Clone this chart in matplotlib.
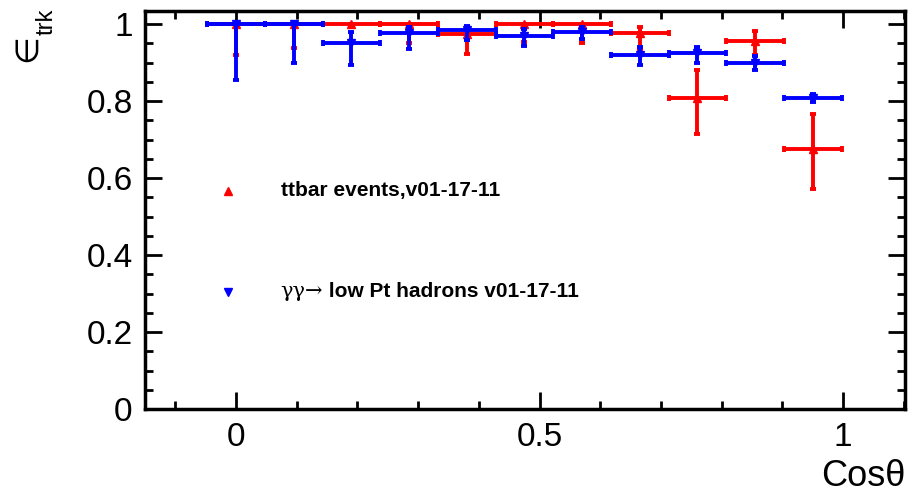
"""
Tracking efficiency vs cos(theta): ttbar vs gamma-gamma -> low Pt hadrons
"""

import matplotlib
matplotlib.use("Agg")
import matplotlib.pyplot as plt
from matplotlib.ticker import MultipleLocator
import numpy as np

plt.rcParams["font.family"] = ["Liberation Sans", "DejaVu Sans"]

# --- data (bin centres, half-width 0.0475) ---
cos_bins = [0.0, 0.095, 0.19, 0.285, 0.38, 0.475, 0.57, 0.665, 0.76, 0.855, 0.95]
bin_half = 0.0475

ttbar_eff = [1.0, 1.0, 1.0, 1.0, 0.974, 1.0, 1.0, 0.976, 0.809, 0.956, 0.675]
ttbar_lo = [0.081, 0.063, 0.0, 0.05, 0.052, 0.046, 0.05, 0.04, 0.095, 0.037, 0.104]
ttbar_hi = [0.0, 0.0, 0.0, 0.0, 0.0, 0.0, 0.0, 0.017, 0.072, 0.027, 0.091]

gg_eff = [1.0, 1.0, 0.951, 0.977, 0.984, 0.97, 0.98, 0.919, 0.924, 0.90, 0.809]
gg_lo = [0.145, 0.10, 0.057, 0.042, 0.026, 0.027, 0.019, 0.025, 0.024, 0.018, 0.011]
gg_hi = [0.0, 0.0, 0.029, 0.016, 0.011, 0.017, 0.013, 0.022, 0.017, 0.017, 0.009]

RED = "#ff0000"
BLUE = "#0000ff"

fig = plt.figure(figsize=(9.19, 4.96), dpi=100)
ax = fig.add_axes([0.1578, 0.1754, 0.8270, 0.8024])

err_kw = dict(fmt="none", elinewidth=2.8, capsize=2.5, capthick=2.8)
ax.errorbar(cos_bins, ttbar_eff, xerr=bin_half, yerr=[ttbar_lo, ttbar_hi],
            ecolor=RED, **err_kw)
ax.plot(cos_bins, ttbar_eff, "^", color=RED, markersize=6, linestyle="none")
ax.errorbar(cos_bins, gg_eff, xerr=bin_half, yerr=[gg_lo, gg_hi],
            ecolor=BLUE, **err_kw)
ax.plot(cos_bins, gg_eff, "v", color=BLUE, markersize=6, linestyle="none")

ax.set_xlim(-0.15, 1.102)
ax.set_ylim(0, 1.034)

# ROOT-style axes: ticks inside on all four sides
ax.xaxis.set_major_locator(MultipleLocator(0.5))
ax.xaxis.set_minor_locator(MultipleLocator(0.1))
ax.yaxis.set_major_locator(MultipleLocator(0.2))
ax.yaxis.set_minor_locator(MultipleLocator(0.05))
ax.xaxis.set_major_formatter(plt.FuncFormatter(lambda v, p: f"{v:g}"))
ax.yaxis.set_major_formatter(plt.FuncFormatter(lambda v, p: f"{v:g}"))
ax.tick_params(which="both", direction="in", top=True, right=True,
               labelsize=24, width=2, pad=9)
ax.tick_params(which="major", length=12)
ax.tick_params(which="minor", length=6)
for sp in ax.spines.values():
    sp.set_linewidth(2.5)

# axis titles
fig.text(0.9848, 0.004, "Cos\u03b8", ha="right", va="bottom", fontsize=26)
fig.text(0.030, 0.903, "\u2208", rotation=90, ha="center", va="center",
         fontsize=23, family=["DejaVu Sans"])
fig.text(0.051, 0.956, "trk", rotation=90, ha="center", va="center",
         fontsize=17)

# --- legend drawn by hand ---
ax.plot([0.109], [0.548], "^", color=RED, markersize=6, transform=ax.transAxes)
ax.text(0.179, 0.548, "ttbar events,v01-17-11", transform=ax.transAxes,
        fontsize=15, fontweight="bold", va="center", ha="left")
ax.plot([0.109], [0.294], "v", color=BLUE, markersize=6, transform=ax.transAxes)
t1 = ax.text(0.178, 0.294, "\u03b3\u03b3\u2192", transform=ax.transAxes,
             fontsize=15, va="center", ha="left", family=["DejaVu Serif"])
ax.annotate(" low Pt hadrons v01-17-11", xy=(1, 0.5), xycoords=t1,
            fontsize=15, fontweight="bold", va="center", ha="left")

fig.savefig("out.png", dpi=100)
